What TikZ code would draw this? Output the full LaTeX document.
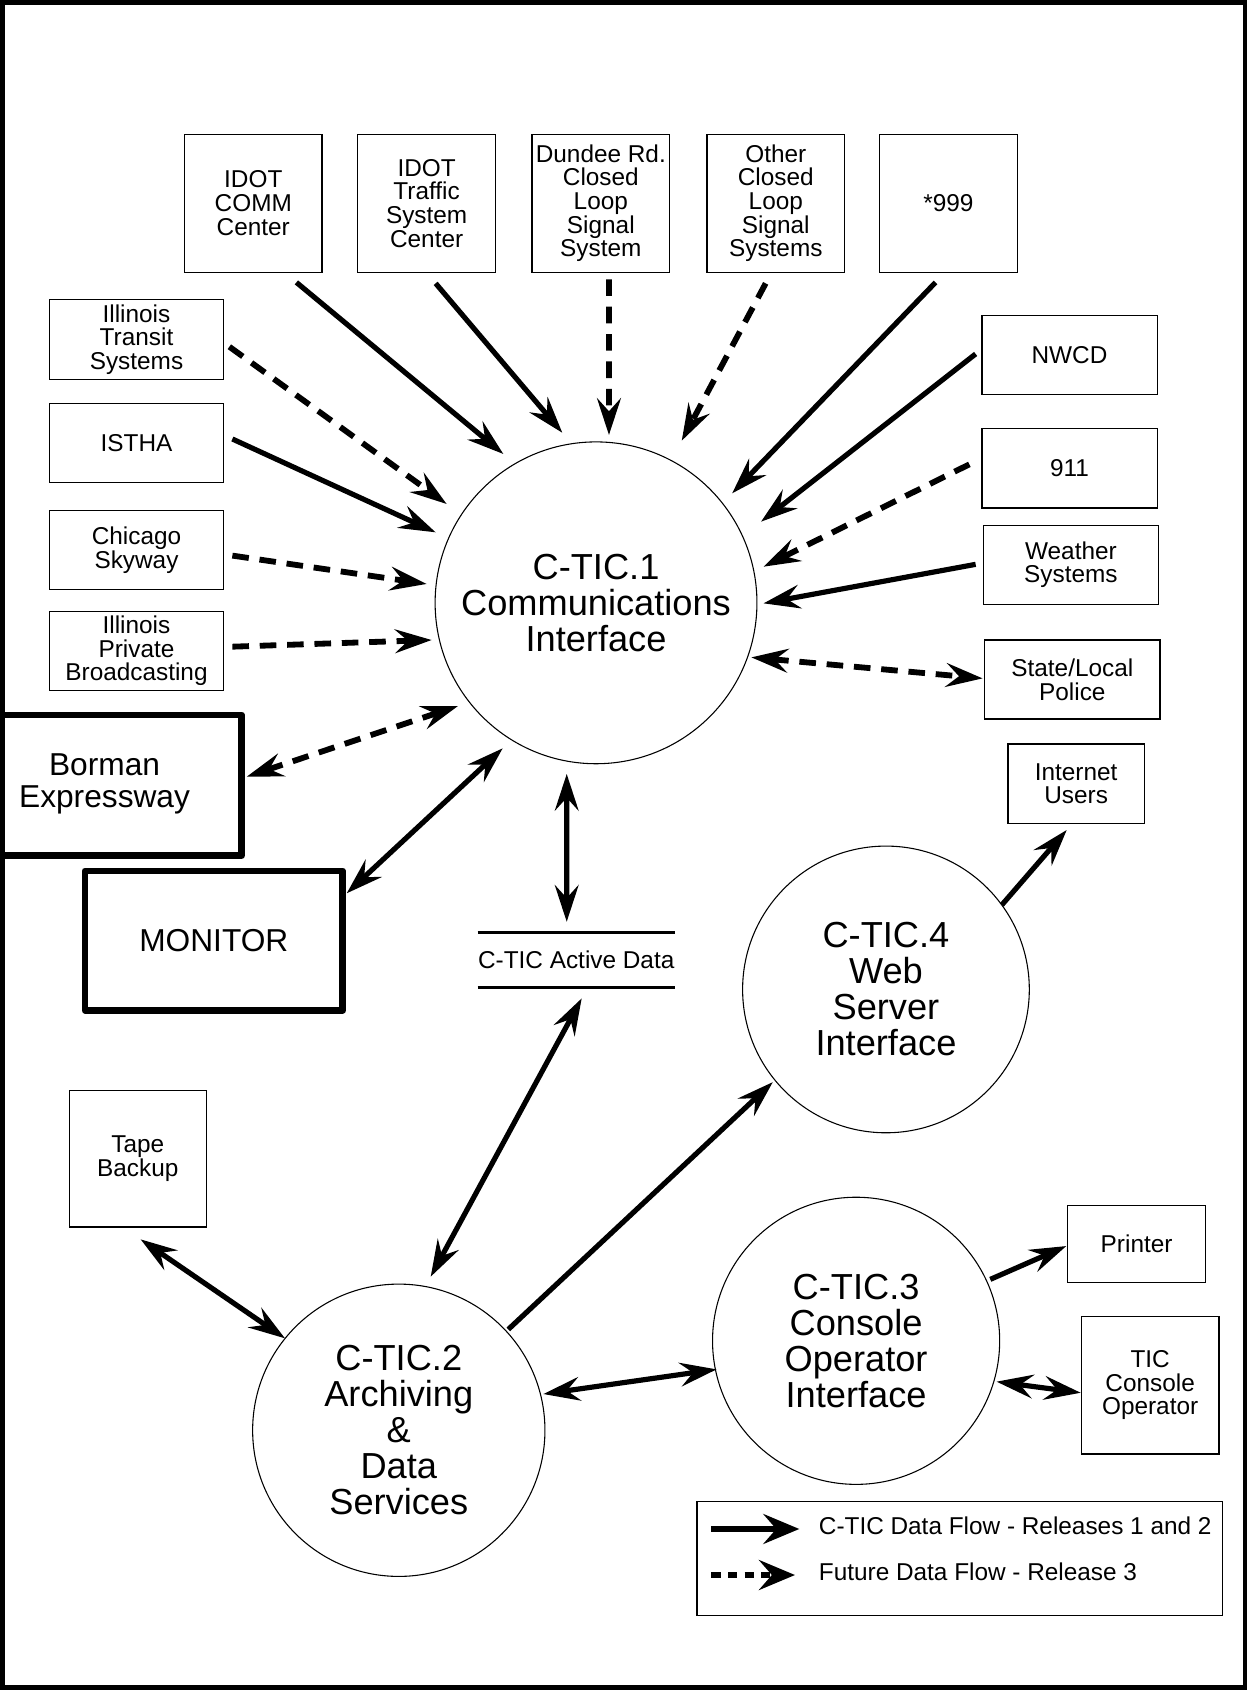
\documentclass[tikz,border=0pt]{standalone}
\usepackage{fontspec}
\setmainfont{Liberation Sans}
\usetikzlibrary{arrows.meta,calc}
\newcommand{\fsbox}{\fontsize{11.3}{11}\selectfont}
\newcommand{\fscirc}{\fontsize{16.8}{16.7}\selectfont}
\newcommand{\fsbig}{\fontsize{14.7}{14.8}\selectfont}
\tikzset{
  box/.style={draw, line width=0.6pt, inner sep=0pt, align=center, font=\fsbox},
  tbox/.style={box, minimum width=63.85pt, minimum height=64pt},
  lbox/.style={box, minimum width=80.85pt, minimum height=36.8pt},
  rbox/.style={box, minimum width=81.3pt, minimum height=36.75pt},
  heavybox/.style={draw, line width=3.1pt, line join=round, inner sep=0pt, align=center, font=\fsbig},
  proc/.style={draw, circle, line width=0.5pt, inner sep=0pt, align=center, font=\fscirc},
  >={Stealth[length=17pt,width=11pt,inset=6pt]},
  sflow/.style={line width=2.4pt},
  dflow/.style={line width=2.7pt, dash pattern=on 7.7pt off 5pt},
}
\begin{document}
\begin{tikzpicture}[x=0.5pt, y=-0.5pt]
\fill[white] (0,0) rectangle (1157,1568);
\useasboundingbox (0,0) rectangle (1157,1568);
\draw[line width=2.1pt] (2.1,2.1) rectangle (1154.9,1565.9);

% top boxes
\node[tbox] (idotcomm) at (235,188.6) {IDOT\\COMM\\Center};
\node[tbox] (idottraffic) at (395.85,188.6) {IDOT\\Traffic\\System\\Center};
\node[tbox] (dundee) at (557.45,188.6) {Dundee Rd.\\Closed\\Loop\\Signal\\System};
\node[tbox] (other) at (719.8,188.6) {Other\\Closed\\Loop\\Signal\\Systems};
\node[tbox] (n999) at (879.9,188.6) {*999};

% left boxes
\node[lbox] (itransit) at (126.65,315) {Illinois\\Transit\\Systems};
\node[lbox] (istha) at (126.65,410.85) {ISTHA};
\node[lbox] (skyway) at (126.65,510.3) {Chicago\\Skyway};
\node[lbox] (iprivate) at (126.65,603.9) {Illinois\\Private\\Broadcasting};

% right boxes
\node[rbox] (nwcd) at (992.3,329.4) {NWCD};
\node[rbox] (n911) at (992.3,434.5) {911};
\node[rbox] (weather) at (993.6,524.05) {Weather\\Systems};
\node[rbox] (police) at (994.9,630.45) {State/Local\\Police};
\node[box, minimum width=63.25pt, minimum height=36.8pt] (internet) at (998.45,727.1) {Internet\\Users};
\node[box, minimum width=63.55pt, minimum height=63.4pt] (tape) at (127.85,1075) {Tape\\Backup};
\node[box, minimum width=63.95pt, minimum height=35.7pt] (printer) at (1054.55,1154.4) {Printer};
\node[box, minimum width=63.8pt, minimum height=63.85pt] (ticop) at (1067.1,1285.15) {TIC\\Console\\Operator};

% heavy boxes
\node[heavybox, minimum width=111.1pt, minimum height=65.25pt] (borman) at (113.1,728.65) {};
\node[font=\fsbig, align=center, inner sep=0pt] (bormanlabel) at (97,727) {Borman\\Expressway};
\node[heavybox, minimum width=119.5pt, minimum height=64.65pt] (monitor) at (198.4,872.75) {MONITOR};

% processes
\node[proc, minimum size=149.3pt] (c1) at (553,559.3) {C-TIC.1\\Communications\\Interface};
\node[proc, minimum size=135.6pt] (c2) at (370,1327) {C-TIC.2\\Archiving\\\&\\Data\\Services};
\node[proc, minimum size=133.2pt] (c3) at (794.3,1244) {C-TIC.3\\Console\\Operator\\Interface};
\node[proc, minimum size=133pt] (c4) at (822,918) {C-TIC.4\\Web\\Server\\Interface};

% data store
\node[font=\fsbox, minimum width=89.95pt, minimum height=25.15pt, inner sep=0pt] (store) at (534.65,890.85) {C-TIC Active Data};
\draw[line width=1.25pt] (store.north west) -- (store.north east) (store.south west) -- (store.south east);

% connectors into C-TIC.1
\draw[sflow,->] ($(idotcomm)+(40,73.4)$) -- ($(c1)+(-86,-138.1)$);
\draw[sflow,->] ($(idottraffic)+(8.35,74.3)$) -- ($(c1)+(-31.3,-157.8)$);
\draw[dflow,->] ($(dundee)+(7.55,70.6)$) -- ($(c1)+(12,-155.7)$);
\draw[dflow,->] ($(other)+(-9.4,74.3)$) -- ($(c1)+(79.5,-150.4)$);
\draw[sflow,->] ($(n999)+(-11.9,73.4)$) -- ($(c1)+(126.3,-101.6)$);
\draw[sflow,->] ($(nwcd)+(-87.1,-1)$) -- ($(c1)+(153.1,-75.3)$);
\draw[dflow,->] ($(n911)+(-92.9,-3.7)$) -- ($(c1)+(155.4,-33.5)$);
\draw[sflow,->] ($(weather)+(-88.4,-0.45)$) -- ($(c1)+(155.4,0.5)$);
\draw[dflow,<->] ($(c1)+(144.1,50.6)$) -- ($(police)+(-83.2,-1.05)$);
\draw[dflow,->] ($(itransit)+(86.15,6.7)$) -- ($(c1)+(-138.6,-91.7)$);
\draw[sflow,->] ($(istha)+(88.95,-3.55)$) -- ($(c1)+(-148.8,-65.4)$);
\draw[dflow,->] ($(skyway)+(88.95,5.2)$) -- ($(c1)+(-157.1,-17.5)$);
\draw[dflow,->] ($(iprivate)+(88.95,-3.9)$) -- ($(c1)+(-152.5,34.5)$);
\draw[dflow,<->] ($(c1)+(-128,95.7)$) -- ($(borman)+(115.8,-8.05)$);
\draw[sflow,<->] ($(c1)+(-86.6,135)$) -- ($(monitor)+(123.3,-43.95)$);
\draw[sflow,<->] ($(c1)+(-27.2,158.8)$) -- ($(store)+(-8.85,-35.65)$);

% lower connectors
\draw[sflow,<->] ($(store)+(5.05,35.45)$) -- ($(c2)+(29.6,-142.5)$);
\draw[sflow,<->] ($(tape)+(2.65,74.9)$) -- ($(c2)+(-105.6,-85.3)$);
\draw[sflow,->] ($(c2)+(101.6,-93.6)$) -- ($(c4)+(-105,86)$);
\draw[sflow,<->] ($(c2)+(134.1,-33.6)$) -- ($(c3)+(-129.4,26.5)$);
\draw[sflow,->] ($(c4)+(107.4,-78.3)$) -- ($(internet)+(-8.75,43)$);
\draw[sflow,->] ($(c3)+(124.5,-57)$) -- ($(printer)+(-65.25,1.7)$);
\draw[sflow,<->] ($(c3)+(130.3,37.9)$) -- ($(ticop)+(-64.4,7.05)$);

% legend
\node[box, minimum width=243.75pt, minimum height=53.05pt] (legend) at (890.45,1446.05) {};
\node[anchor=west, font=\fsbox, inner sep=0pt] (leg1) at (759.4,1415.6) {C-TIC Data Flow - Releases 1 and 2};
\node[anchor=west, font=\fsbox, inner sep=0pt] (leg2) at (759.4,1458.2) {Future Data Flow - Release 3};
\coordinate (la1) at (660.1,1418.6);
\coordinate (lb1) at (741.6,1418.6);
\coordinate (la2) at (660.1,1461.3);
\coordinate (lb2) at (737.6,1461.3);
\draw[sflow,-{Stealth[length=16.7pt,width=13.9pt,inset=6pt]}] (la1) -- (lb1);
\draw[line width=2.8pt, dash pattern=on 4.2pt off 3.5pt,-{Stealth[length=16.7pt,width=13.9pt,inset=6pt]}] (la2) -- (lb2);
\end{tikzpicture}
\end{document}
